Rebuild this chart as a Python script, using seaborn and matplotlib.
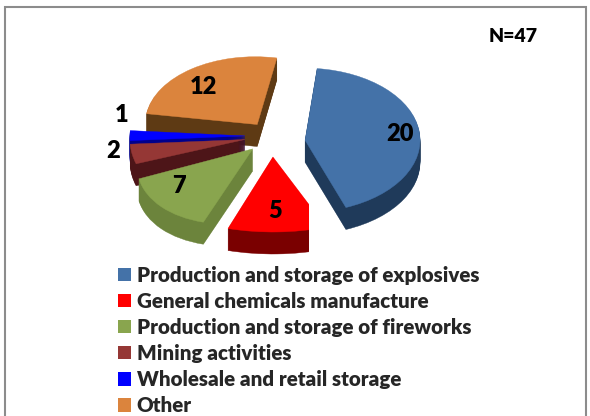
import matplotlib
matplotlib.use("Agg")
import matplotlib.pyplot as plt
from matplotlib.patches import Patch, Rectangle
from matplotlib.path import Path
from matplotlib.transforms import Affine2D
import seaborn as sns

categories = [
    "Production and storage of explosives",
    "General chemicals manufacture",
    "Production and storage of fireworks",
    "Mining activities",
    "Wholesale and retail storage",
    "Other",
]
counts = [20, 5, 7, 2, 1, 12]
total_label = "N=47"
top_colors = ["#4472a8", "#ff0000", "#89a54e", "#953735", "#0000ff", "#db843d"]
side_colors = ["#1f3a5a", "#7a0000", "#6c843c", "#4d1518", "#00008c", "#5e3a14"]

sns.set_theme(style="white")
plt.rcParams["font.family"] = ["Lato", "DejaVu Sans"]

W, H = 590, 416
CX, CY, RX, RY = 272, 136, 115, 75  # pie centre and projected radii, in pixels
DEPTH = 22                          # wall height of the extruded pie, in pixels


def px(x, y):
    """Pixel position to pie data coordinates."""
    return (x - CX) / RX, (CY - y) / RY


fig = plt.figure(figsize=(W / 100, H / 100), dpi=100, facecolor="white")
ax = fig.add_axes([0, 0, 1, 1])

explode = [0.29, 0.28, 0.24, 0.24, 0.235, 0.20]
paint_rank = [4, 5, 3, 2, 1, 0]  # back-to-front order of the exploded slices

# Perspective tweaks per slice, about its apex: x scale, y scale, x-by-y shear,
# y-by-x shear, and a downward shift in pixels
slice_tweaks = [
    (1.00, 0.96, 0.00, 0.00, 7),
    (1.30, 1.00, 0.00, 0.00, 0),
    (1.00, 1.00, 0.135, 0.08, 0),
    (1.00, 1.00, 0.00, 0.00, 0),
    (1.00, 1.00, 0.00, 0.00, 0),
    (0.97, 0.90, 0.07, -0.08, 0),
]


def slice_transform(apex, tweak):
    sx, sy, shear_x, shear_y, drop = tweak
    ax_, ay_ = apex
    affine = Affine2D.from_values(sx, shear_y, shear_x, sy, 0, 0)
    return (Affine2D().translate(-ax_, -ay_) + affine
            + Affine2D().translate(ax_, ay_ - drop / RY) + ax.transData)


# Red slice is cut off by a straight edge on its right
x0, y1 = px(0, 0)
x1, y0 = px(309, H)
red_clip = Affine2D().scale(x1 - x0, y1 - y0).translate(x0, y0) + ax.transData

for step in range(DEPTH, -1, -1):
    colors = sns.color_palette(top_colors if step == 0 else side_colors)
    wedges, _ = ax.pie(
        counts,
        explode=explode,
        colors=colors,
        startangle=84,
        counterclock=False,
        center=(0, -step / RY),
    )
    for wedge, rank, color, tweak in zip(wedges, paint_rank, colors, slice_tweaks):
        wedge.set_edgecolor(color)
        wedge.set_linewidth(0.3)
        wedge.set_zorder(10 * (rank + 1) + (DEPTH - step) / (DEPTH + 1))
        wedge.set_transform(slice_transform(wedge.center, tweak))
    wedges[1].set_clip_on(True)
    wedges[1].set_clip_path(Path.unit_rectangle(), red_clip)

ax.set_aspect("auto")
ax.set_xlim(px(0, 0)[0], px(W, 0)[0])
ax.set_ylim(px(0, H)[1], px(0, 0)[1])
ax.set_axis_off()

# Count labels beside or on each slice
label_positions = [(400, 134), (275, 211), (179, 186), (113, 151), (122, 115), (203, 87)]
for value, (lx, ly) in zip(counts, label_positions):
    ax.text(*px(lx, ly), str(value), fontsize=17, fontweight="heavy", color="black",
            ha="center", va="center", zorder=100)

ax.text(*px(513, 36), total_label, fontsize=14, fontweight="heavy", color="black",
        ha="center", va="center", zorder=100)

fontsize = 14.8
handles = [Patch(facecolor=c, edgecolor="none") for c in top_colors]
ax.legend(
    handles, categories,
    loc="upper left",
    bbox_to_anchor=(112 / W, 1 - 259.5 / H),
    frameon=False,
    prop={"weight": "heavy", "size": fontsize},
    labelspacing=0.345,
    handlelength=9.4 / fontsize,
    handleheight=9.4 / fontsize,
    handletextpad=0.27,
    borderpad=0.3,
    borderaxespad=0,
).set_zorder(100)

# Chart-area frame
fig.add_artist(Rectangle((5 / W, -0.01), 581 / W, 1 - 7 / H + 0.01, transform=fig.transFigure,
                         fill=False, edgecolor="#8c8c8c", linewidth=1.5))

fig.savefig("out.png", dpi=100, facecolor="white")
